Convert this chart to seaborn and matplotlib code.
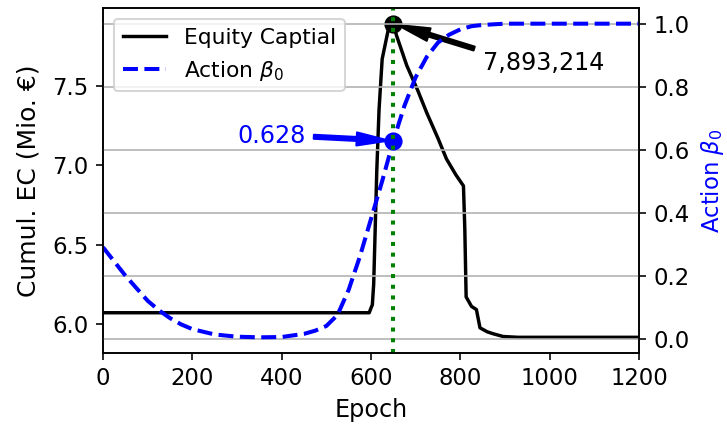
import matplotlib
matplotlib.use("Agg")
import matplotlib.pyplot as plt
import seaborn as sns
import numpy as np

# ---- data ----
ec_epoch = [0, 596, 600, 603, 606, 613, 618, 625, 639, 650, 657, 680, 705, 725,
            750, 769, 790, 807, 810, 813, 825, 836, 844, 860, 874, 896, 930, 1200]
ec_value = [6.07, 6.07, 6.10, 6.12, 6.25, 6.97, 7.35, 7.67, 7.86, 7.893214, 7.82,
            7.63, 7.47, 7.33, 7.17, 7.04, 6.94, 6.87, 6.60, 6.17, 6.11, 6.09,
            5.975, 5.95, 5.937, 5.92, 5.915, 5.915]

beta_epoch = [0, 25, 50, 75, 100, 125, 150, 175, 200, 250, 300, 350, 400, 450,
              475, 500, 525, 550, 575, 600, 625, 650, 675, 700, 725, 750, 775,
              800, 825, 850, 875, 900, 1200]
beta_value = [0.29, 0.245, 0.20, 0.16, 0.12, 0.09, 0.065, 0.045, 0.03, 0.013,
              0.006, 0.004, 0.005, 0.015, 0.025, 0.04, 0.075, 0.155, 0.26, 0.38,
              0.50, 0.628, 0.74, 0.83, 0.895, 0.94, 0.965, 0.982, 0.992, 0.996,
              0.998, 1.0, 1.0]

best_epoch = 650
best_ec = 7.893214
best_beta = 0.628
xticks = [0, 200, 400, 600, 800, 1000, 1200]

fig = plt.figure(figsize=(5.0, 430 / 145.4), dpi=145.4)
ax = fig.add_subplot(111)
fig.subplots_adjust(left=103 / 727, right=639 / 727, top=1 - 8 / 430, bottom=1 - 353 / 430)
ax2 = ax.twinx()

sns.lineplot(x=ec_epoch, y=ec_value, ax=ax, color="black", lw=1.7,
             label="Equity Captial", sort=False)
sns.lineplot(x=beta_epoch, y=beta_value, ax=ax2, color="blue", lw=2,
             linestyle="--", label=r"Action $\beta_0$", sort=False)

ax.set_xlim(0, 1200)
ax.set_xticks(xticks)
ax.set_xlabel("Epoch", fontsize=11.8)
ax.set_ylabel("Cumul. EC (Mio. €)", fontsize=12.4, labelpad=6)
ax2.set_ylabel(r"Action $\beta_0$", color="blue", fontsize=11.3, labelpad=5)
ax.tick_params(labelsize=11.3)
ax2.tick_params(labelsize=11.3)
ax2.grid(True, axis="y")
ax.grid(False)

# markers and annotations
ax.plot([best_epoch], [best_ec], "o", color="black", ms=8)
ax2.plot([best_epoch], [best_beta], "o", color="blue", ms=8)
arrow_kw = dict(shrink=0.05, width=2, headwidth=6.5, headlength=16)
ax.annotate(f"{int(round(best_ec * 1e6)):,}", xy=(best_epoch, best_ec),
            xytext=(850, 7.6), color="black", fontsize=11.8,
            arrowprops=dict(facecolor="black", edgecolor="black", **arrow_kw))
ax2.annotate(f"{best_beta:.3f}", xy=(best_epoch, best_beta),
             xytext=(300, 0.62), color="blue", fontsize=11.8,
             arrowprops=dict(facecolor="blue", edgecolor="blue", **arrow_kw))
ax2.axvline(best_epoch, color="green", linestyle=":", lw=2)

# combined legend
h1, l1 = ax.get_legend_handles_labels()
h2, l2 = ax2.get_legend_handles_labels()
if ax.get_legend() is not None:
    ax.get_legend().remove()
if ax2.get_legend() is not None:
    ax2.get_legend().remove()
ax2.legend(h1 + h2, l1 + l2, loc="upper left", fontsize=10.8)

fig.savefig("out.png", dpi=145.4)
